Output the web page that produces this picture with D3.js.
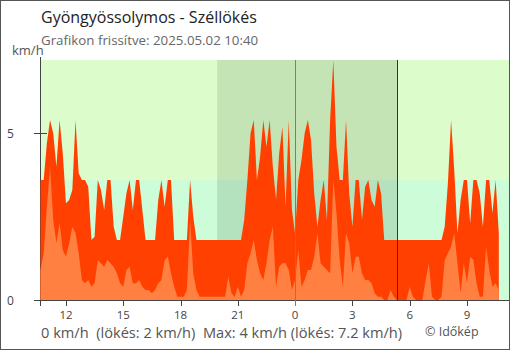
<!DOCTYPE html>
<html><head><meta charset="utf-8">
<script src="https://cdn.jsdelivr.net/npm/d3@7"></script>
<style>
html,body{margin:0;padding:0;background:#fff;}
svg{display:block;font-family:"Open Sans",sans-serif;}
</style></head><body>
<svg id="c" width="510" height="350"></svg>
<script>
const title = "Gyöngyössolymos - Széllökés";
const subtitle = "Grafikon frissítve: 2025.05.02 10:40";
const unitLabel = "km/h";
const footerText = "0 km/h  (lökés: 2 km/h)  Max: 4 km/h (lökés: 7.2 km/h)";
const credit = "© Időkép";
const startTime = "2025-05-01T10:40";
const stepMinutes = 10;
const domainEnd = "2025-05-02T11:12";
const nightStart = "2025-05-01T19:55";
const nightEnd = "2025-05-02T05:20";
const midnight = "2025-05-02T00:00";
const bandLimit = 3.6;
const yMax = 7.2;
const yTicks = [0, 5];
const gust = [3.6,3.6,4.7,5.4,5.0,4.0,5.4,4.4,2.9,3.0,3.3,5.4,3.8,3.6,3.6,3.4,1.8,1.9,3.6,3.3,
2.7,3.6,3.6,2.2,1.8,1.8,2.5,3.2,3.6,2.7,3.6,3.6,2.7,1.8,1.8,1.8,1.8,3.0,3.6,2.8,
3.6,3.6,1.8,1.8,1.8,1.8,1.8,3.6,2.5,1.8,1.8,1.8,1.8,1.8,1.8,1.8,1.8,1.8,1.8,1.8,
1.8,1.8,1.8,1.8,2.4,3.6,5.0,5.4,3.6,4.3,5.4,4.6,5.4,4.0,3.0,4.4,5.2,2.8,5.4,2.7,
2.0,3.6,4.2,5.0,5.4,4.8,3.2,2.2,3.0,3.6,2.4,5.4,7.2,4.6,3.6,3.6,5.4,3.2,2.2,3.6,
3.6,2.4,3.4,3.6,3.0,2.8,3.6,3.2,1.8,1.8,1.8,1.8,1.8,1.8,1.8,1.8,1.8,1.8,1.8,1.8,
1.8,1.8,1.8,1.8,1.8,1.8,1.8,2.2,3.5,5.4,3.9,2.0,3.0,3.6,3.6,2.3,3.6,3.6,3.2,2.2,
3.6,3.6,2.6,3.6,2.0];
const wind = [0.9,1.4,2.8,4.0,2.4,1.7,2.3,1.5,1.3,1.7,2.2,2.0,1.4,0.6,0.5,0.6,0.4,0.5,1.2,1.1,
1.0,1.2,1.1,1.0,0.8,0.5,0.4,0.9,1.0,0.5,0.5,0.6,0.4,0.3,0.3,0.2,0.3,0.5,0.6,1.2,
1.3,0.8,0.4,0.1,0.1,0.1,0.3,2.4,0.8,0.3,0.1,0.1,0.1,0.1,0.1,0.1,0.1,0.1,0.1,0.7,
0.2,0.1,0.4,0.1,0.3,1.1,1.4,1.8,1.2,0.8,0.6,1.1,1.8,2.2,0.4,1.0,1.1,1.1,0.9,0.3,
0.6,1.5,0.4,0.6,0.9,0.9,1.3,2.0,1.1,1.0,0.9,0.8,3.6,2.6,1.2,0.4,2.0,1.7,0.8,1.3,
1.3,0.8,0.6,0.6,0.5,0.2,0.1,0.1,0.0,0.0,0.3,0.1,0.0,0.0,0.0,0.0,0.4,0.1,0.0,0.0,
0.0,0.6,1.1,0.1,0.0,0.0,0.1,1.2,1.4,1.6,2.0,1.1,0.2,1.1,0.5,1.3,1.2,0.5,0.1,0.1,
1.6,0.9,0.4,0.5,0.3];

const parse = d3.timeParse("%Y-%m-%dT%H:%M");
const t0 = parse(startTime);
const times = gust.map((_, i) => d3.timeMinute.offset(t0, i * stepMinutes));

const svg = d3.select("#c");
const L = 40.5, R = 509, T = 60, B = 300;
const x = d3.scaleTime().domain([t0, parse(domainEnd)]).range([L, R]);
const y = d3.scaleLinear().domain([0, yMax]).range([B, T]);

// frame
svg.append("rect").attr("x",0.5).attr("y",0.5).attr("width",509).attr("height",349)
  .attr("fill","#fff").attr("stroke","#555");

// background bands
svg.append("rect").attr("x",L).attr("y",y(yMax)).attr("width",R-L).attr("height",y(bandLimit)-y(yMax)).attr("fill","#ddfccc");
svg.append("rect").attr("x",L).attr("y",y(bandLimit)).attr("width",R-L).attr("height",y(0)-y(bandLimit)).attr("fill","#ccfcd8");
// night
const nx0 = x(parse(nightStart)), nx1 = x(parse(nightEnd));
svg.append("rect").attr("x",nx0).attr("y",y(yMax)).attr("width",nx1-nx0).attr("height",y(bandLimit)-y(yMax)).attr("fill","#c5e4b6");
svg.append("rect").attr("x",nx0).attr("y",y(bandLimit)).attr("width",nx1-nx0).attr("height",y(0)-y(bandLimit)).attr("fill","#b4e2bf");

// axis lines (under data)
svg.append("line").attr("x1",L).attr("x2",L).attr("y1",57).attr("y2",B+6).attr("stroke","#444");
svg.append("line").attr("x1",34).attr("x2",R).attr("y1",B+0.5).attr("y2",B+0.5).attr("stroke","#444");

const areaG = d3.area().x((d,i)=>x(times[i])).y0(y(0)).y1(d=>y(d)).curve(d3.curveLinear);
svg.append("path").datum(gust).attr("d",areaG).attr("fill","#ff4000");
svg.append("path").datum(wind).attr("d",areaG).attr("fill","#ff8040");

// midnight + sunrise lines
const mx = Math.round(x(parse(midnight))) + 0.5;
svg.append("line").attr("x1",mx).attr("x2",mx).attr("y1",T).attr("y2",B+6).attr("stroke","#3d8ed0");
svg.append("line").attr("x1",Math.round(nx1)+0.5).attr("x2",Math.round(nx1)+0.5).attr("y1",T).attr("y2",B).attr("stroke","#333");

// x axis ticks + labels
const xt = x.ticks(d3.timeHour.every(3));
const fmt = d3.timeFormat("%-H");
const gx = svg.append("g");
xt.forEach(t => {
  const px = Math.round(x(t)) + 0.5;
  gx.append("line").attr("x1",px).attr("x2",px).attr("y1",B).attr("y2",B+6)
    .attr("stroke", +t === +parse(midnight) ? "#3d8ed0" : "#444");
  gx.append("text").attr("x",x(t)).attr("y",319).attr("text-anchor","middle")
    .attr("font-size",11.5).attr("fill","#444").text(fmt(t));
});
// y ticks
yTicks.forEach(v => {
  const py = Math.round(y(v)) + 0.5;
  svg.append("line").attr("x1",34).attr("x2",47).attr("y1",py).attr("y2",py).attr("stroke","#444");
  svg.append("text").attr("x",7).attr("y",y(v)+4.5).attr("font-size",12).attr("fill","#444").text(v);
});

// texts
svg.append("text").attr("x",41).attr("y",23).attr("font-size",16).attr("fill","#222").text(title);
svg.append("text").attr("x",41).attr("y",45).attr("font-size",13.3).attr("fill","#666").text(subtitle);
svg.append("text").attr("x",12).attr("y",55).attr("font-size",13).attr("fill","#555").text(unitLabel);
svg.append("text").attr("x",41).attr("y",338).attr("font-size",14.6).attr("fill","#555").attr("xml:space","preserve").style("white-space","pre").text(footerText);
svg.append("text").attr("x",425).attr("y",335.5).attr("font-size",12.5).attr("fill","#555").text(credit);
</script>
</body></html>
